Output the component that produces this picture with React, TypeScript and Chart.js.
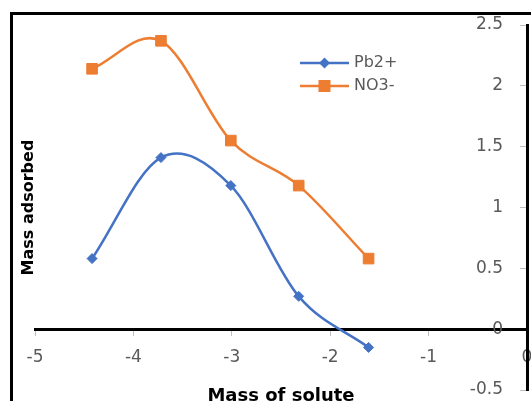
import React, { useEffect, useRef } from "react";
import { Chart, registerables } from "chart.js";

Chart.register(...registerables);

// Log of solute mass against mass adsorbed, for each ion
const logSoluteMass = [-4.42, -3.72, -3.01, -2.32, -1.61];
const pbAdsorbed = [0.58, 1.41, 1.18, 0.27, -0.15];
const no3Adsorbed = [2.14, 2.37, 1.55, 1.18, 0.58];
const seriesLabels = ["Pb2+", "NO3-"];
const xTickValues = [-5, -4, -3, -2, -1, 0];
const yTickValues = [-0.5, 0, 0.5, 1, 1.5, 2, 2.5];
const xAxisTitle = "Mass of solute";
const yAxisTitle = "Mass adsorbed";

const BLUE = "#4472C4";
const ORANGE = "#ED7D31";
const LABEL_GREY = "#595959";
const FONT = "'DejaVu Sans', sans-serif";

const CANVAS_W = 560;
const CANVAS_H = 430;

// Black frame around the whole figure
const framePlugin = {
  id: "frame",
  beforeDraw(chart: any) {
    const { ctx } = chart;
    ctx.save();
    ctx.fillStyle = "#ffffff";
    ctx.fillRect(0, 0, chart.width, chart.height);
    ctx.strokeStyle = "#000000";
    ctx.lineWidth = 3;
    ctx.strokeRect(11.5, 13.5, chart.width + 20, chart.height + 20);
    ctx.restore();
  },
};

// Spreadsheet-style smoothed line: Catmull-Rom tangents (1/6 of the
// neighbour span), capped at half of the segment length.
const smoothPlugin = {
  id: "spreadsheetSmoothing",
  beforeDatasetsDraw(chart: any) {
    const dist = (a: any, b: any) => Math.hypot(b.x - a.x, b.y - a.y);
    chart.data.datasets.forEach((_ds: any, di: number) => {
      const meta = chart.getDatasetMeta(di);
      const line: any = meta.dataset;
      const pts: any[] = meta.data;
      if (!line || pts.length < 2) return;
      if (typeof line.updateControlPoints === "function") {
        line.updateControlPoints(chart.chartArea, "x");
      }
      const n = pts.length;
      for (let i = 0; i < n - 1; i++) {
        const p1 = pts[i];
        const p2 = pts[i + 1];
        const p0 = i > 0 ? pts[i - 1] : p1;
        const p3 = i + 2 < n ? pts[i + 2] : p2;
        const d12 = dist(p1, p2);
        const d02 = dist(p0, p2);
        const d13 = dist(p1, p3);
        let f0 = p0 === p1 ? 1 / 3 : 1 / 6;
        let f1 = p3 === p2 ? 1 / 3 : 1 / 6;
        if (d02 * f0 > d12 / 2) f0 = d12 / 2 / d02;
        if (d13 * f1 > d12 / 2) f1 = d12 / 2 / d13;
        p1.cp2x = p1.x + (p2.x - p0.x) * f0;
        p1.cp2y = p1.y + (p2.y - p0.y) * f0;
        p2.cp1x = p2.x - (p3.x - p1.x) * f1;
        p2.cp1y = p2.y - (p3.y - p1.y) * f1;
      }
      pts[0].cp1x = pts[0].x;
      pts[0].cp1y = pts[0].y;
      pts[n - 1].cp2x = pts[n - 1].x;
      pts[n - 1].cp2y = pts[n - 1].y;
      line._pointsUpdated = true;
    });
  },
};

// Series key: a short line with the marker in its middle, then the name
const seriesKeyPlugin = {
  id: "seriesKey",
  afterDraw(chart: any) {
    const { ctx } = chart;
    const lineStart = 300;
    const lineEnd = 349;
    const textX = 354;
    const firstRow = 63;
    const rowGap = 23;
    chart.data.datasets.forEach((ds: any, i: number) => {
      const y = firstRow + i * rowGap;
      const cx = (lineStart + lineEnd) / 2;
      ctx.save();
      ctx.strokeStyle = ds.borderColor;
      ctx.lineWidth = ds.borderWidth;
      ctx.beginPath();
      ctx.moveTo(lineStart, y);
      ctx.lineTo(lineEnd, y);
      ctx.stroke();
      ctx.fillStyle = ds.pointBackgroundColor;
      if (ds.pointStyle === "rect") {
        const s = 12;
        ctx.fillRect(cx - s / 2, y - s / 2, s, s);
      } else {
        const r = 5.5;
        ctx.beginPath();
        ctx.moveTo(cx, y - r);
        ctx.lineTo(cx + r, y);
        ctx.lineTo(cx, y + r);
        ctx.lineTo(cx - r, y);
        ctx.closePath();
        ctx.fill();
      }
      ctx.font = `16px ${FONT}`;
      ctx.fillStyle = LABEL_GREY;
      ctx.textAlign = "left";
      ctx.textBaseline = "middle";
      ctx.fillText(ds.label, textX, y);
      ctx.restore();
    });
  },
};

const fixedTicks = (values: number[]) => (axis: any) => {
  axis.ticks = values.map((v) => ({ value: v }));
};

export default function App() {
  const canvasRef = useRef<HTMLCanvasElement | null>(null);

  useEffect(() => {
    const canvas = canvasRef.current;
    if (!canvas) return;

    const toPoints = (ys: number[]) => logSoluteMass.map((x, i) => ({ x, y: ys[i] }));
    const tickFont = { family: FONT, size: 17 };

    const chart = new Chart(canvas, {
      type: "line",
      data: {
        datasets: [
          {
            label: seriesLabels[0],
            data: toPoints(pbAdsorbed),
            borderColor: BLUE,
            backgroundColor: BLUE,
            borderWidth: 2.5,
            tension: 0.4,
            pointStyle: "rectRot",
            pointRadius: 5,
            pointBorderWidth: 1,
            pointBackgroundColor: BLUE,
            pointBorderColor: BLUE,
            xAxisID: "x",
            yAxisID: "y",
          },
          {
            label: seriesLabels[1],
            data: toPoints(no3Adsorbed),
            borderColor: ORANGE,
            backgroundColor: ORANGE,
            borderWidth: 2.5,
            tension: 0.4,
            pointStyle: "rect",
            pointRadius: 7.5,
            pointBorderWidth: 1,
            pointBackgroundColor: ORANGE,
            pointBorderColor: ORANGE,
            xAxisID: "x",
            yAxisID: "y",
          },
        ],
      },
      options: {
        responsive: false,
        animation: false,
        events: [],
        layout: { padding: { left: 23, top: 25, right: CANVAS_W - 527, bottom: CANVAS_H - 402 } },
        plugins: {
          legend: { display: false },
          title: { display: false },
          tooltip: { enabled: false },
        },
        scales: {
          x: {
            type: "linear",
            position: { y: 0 },
            min: -5,
            max: 0,
            afterBuildTicks: fixedTicks(xTickValues),
            grid: { display: true, drawOnChartArea: false, drawTicks: true, tickLength: 5, color: "#bfbfbf", lineWidth: 1 },
            border: { display: true, color: "#000000", width: 3 },
            ticks: { font: tickFont, color: LABEL_GREY, padding: 13, maxRotation: 0, autoSkip: false, callback: (v: any) => String(v) },
          },
          y: {
            type: "linear",
            position: { x: 0 },
            min: -0.5,
            max: 2.5,
            afterBuildTicks: fixedTicks(yTickValues),
            grid: { display: true, drawOnChartArea: false, drawTicks: true, tickLength: 6, color: "#bfbfbf", lineWidth: 1 },
            border: { display: true, color: "#000000", width: 3 },
            ticks: { display: false },
          },
          // value labels of the vertical axis, set a little to the left of its line
          yLabels: {
            type: "linear",
            position: { x: -0.244 },
            min: -0.5,
            max: 2.5,
            afterBuildTicks: fixedTicks(yTickValues),
            grid: { display: false, drawTicks: false },
            border: { display: false },
            ticks: { font: tickFont, color: LABEL_GREY, callback: (v: any) => String(v) },
          },
          xTitle: {
            type: "linear",
            position: "bottom",
            grid: { display: false, drawTicks: false },
            border: { display: false },
            ticks: { display: false },
            title: {
              display: true,
              text: xAxisTitle,
              color: "#000000",
              font: { family: FONT, size: 18, weight: "bold", lineHeight: "12px" },
              padding: 0,
            },
          },
          yTitle: {
            type: "linear",
            position: "left",
            grid: { display: false, drawTicks: false },
            border: { display: false },
            ticks: { display: false },
            title: {
              display: true,
              text: yAxisTitle,
              color: "#000000",
              font: { family: FONT, size: 16, weight: "bold", lineHeight: "12px" },
              padding: 0,
            },
          },
        },
      } as any,
      plugins: [framePlugin, smoothPlugin, seriesKeyPlugin],
    });

    return () => chart.destroy();
  }, []);

  return (
    <div
      style={{
        position: "fixed",
        left: 0,
        top: 0,
        width: 531,
        height: 401,
        overflow: "hidden",
        background: "#ffffff",
      }}
    >
      <canvas ref={canvasRef} width={CANVAS_W} height={CANVAS_H} style={{ display: "block" }} />
    </div>
  );
}
